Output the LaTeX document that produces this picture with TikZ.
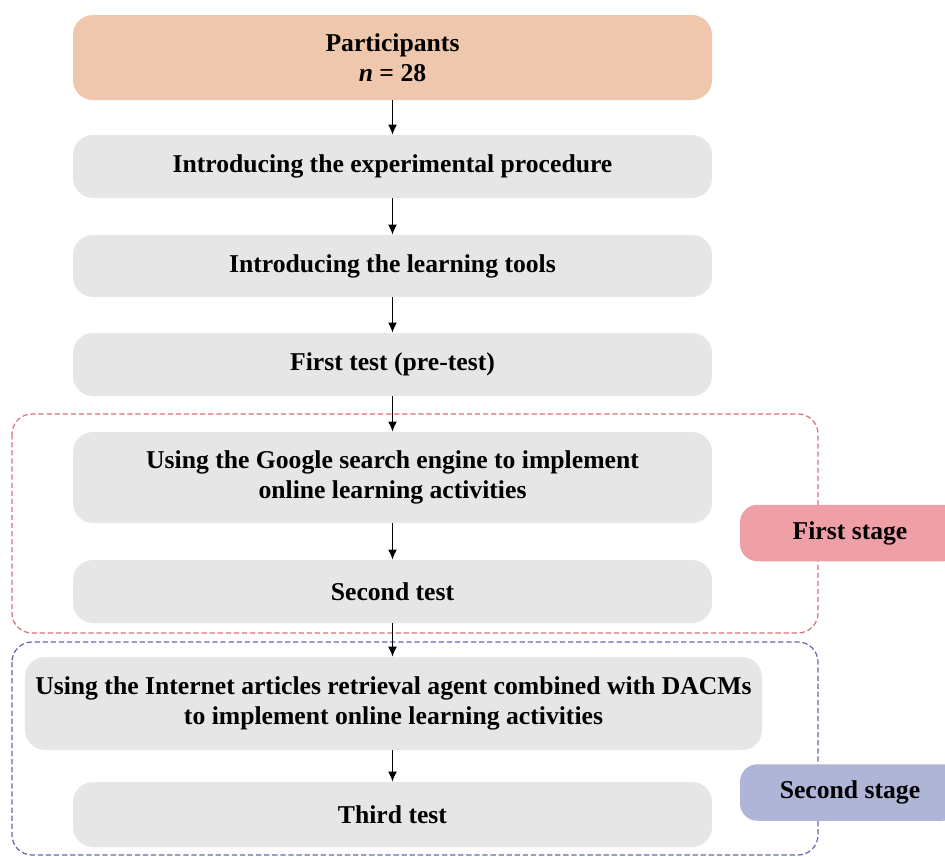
\documentclass[tikz,border=0pt]{standalone}
\usepackage{fontspec}
\setmainfont{Liberation Serif}
\usetikzlibrary{arrows.meta}
\definecolor{peach}{HTML}{EFC7AC}
\definecolor{boxgray}{HTML}{E6E6E6}
\definecolor{redline}{HTML}{D8707A}
\definecolor{blueline}{HTML}{6468B0}
\definecolor{redfill}{HTML}{EEA0A6}
\definecolor{bluefill}{HTML}{AEB5D7}
\tikzset{
  stepbox/.style={fill=boxgray, rounded corners=0.4cm, minimum width=12.78cm, align=center,
    font=\bfseries\fontsize{14.6}{17.2}\selectfont, inner sep=0pt},
  stagebox/.style={rounded corners=0.35cm, minimum width=4.4cm, minimum height=1.13cm,
    font=\bfseries\fontsize{14.6}{17.2}\selectfont, inner sep=0pt},
  frame/.style={rounded corners=0.4cm, line width=0.7pt, dash pattern=on 3pt off 1.6pt},
  arr/.style={line width=0.9pt, -{Latex[length=2mm,width=1.8mm]}}
}
\begin{document}
\begin{tikzpicture}
  \useasboundingbox (0,0) rectangle (18.9,-17.14);
  \clip (0,0) rectangle (18.9,-17.14);
  \draw[frame, redline] (0.24,-8.28) rectangle (16.36,-12.66);
  \draw[frame, blueline] (0.24,-12.84) rectangle (16.36,-17.10);
  \node[stepbox, fill=peach, minimum height=1.70cm] (part) at (7.85,-1.15) {Participants\\\textit{n} = 28};
  \node[stepbox, minimum height=1.26cm] (intro) at (7.85,-3.33) {Introducing the experimental procedure};
  \node[stepbox, minimum height=1.24cm] (tools) at (7.85,-5.32) {Introducing the learning tools};
  \node[stepbox, minimum height=1.26cm] (pre) at (7.85,-7.29) {First test (pre-test)};
  \node[stepbox, minimum height=1.82cm] (google) at (7.85,-9.55) {Using the Google search engine to implement\\online learning activities};
  \node[stepbox, minimum height=1.26cm] (second) at (7.85,-11.83) {Second test};
  \node[stepbox, minimum width=14.74cm, minimum height=1.86cm] (agent) at (7.87,-14.07) {Using the Internet articles retrieval agent combined with DACMs\\to implement online learning activities};
  \node[stepbox, minimum height=1.30cm] (third) at (7.85,-16.29) {Third test};
  \node[stagebox, fill=redfill] (stage1) at (17.0,-10.66) {First stage};
  \node[stagebox, fill=bluefill] (stage2) at (17.0,-15.85) {Second stage};
  \draw[arr] (part) -- (intro);
  \draw[arr] (intro) -- (tools);
  \draw[arr] (tools) -- (pre);
  \draw[arr] (pre) -- (google);
  \draw[arr] (google) -- (second);
  \draw[arr] (second) -- (third |- agent.north);
  \draw[arr] (agent.south -| third) -- (third);
\end{tikzpicture}
\end{document}
